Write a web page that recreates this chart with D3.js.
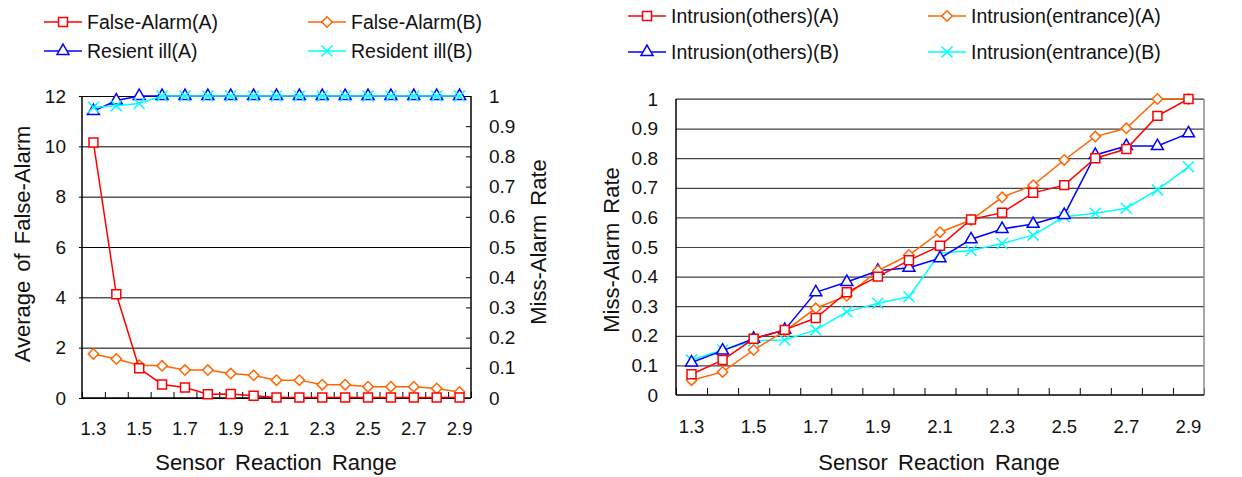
<!DOCTYPE html>
<html>
<head>
<meta charset="utf-8">
<script src="https://cdn.jsdelivr.net/npm/d3@7"></script>
<style>
  html, body { margin: 0; padding: 0; background: #fff; }
  svg { display: block; font-family: "Liberation Sans", Arial, sans-serif; }
</style>
</head>
<body>
<svg id="chart" width="1242" height="477"></svg>
<script>
// ---------------- data ----------------
const categories = ["1.3","1.4","1.5","1.6","1.7","1.8","1.9","2.0","2.1","2.2","2.3","2.4","2.5","2.6","2.7","2.8","2.9"];
const xTickLabels = ["1.3","1.5","1.7","1.9","2.1","2.3","2.5","2.7","2.9"];

// left chart (left axis: average of false-alarm)
const falseAlarmA = [10.15, 4.12, 1.18, 0.54, 0.42, 0.15, 0.16, 0.09, 0.02, 0.02, 0.02, 0.02, 0.02, 0.02, 0.02, 0.02, 0.02];
const falseAlarmB = [1.75, 1.55, 1.30, 1.28, 1.11, 1.11, 0.97, 0.90, 0.71, 0.71, 0.53, 0.53, 0.45, 0.45, 0.45, 0.38, 0.24];
// left chart (right axis: miss-alarm rate)
const residentIllA = [0.95, 0.985, 1, 1, 1, 1, 1, 1, 1, 1, 1, 1, 1, 1, 1, 1, 1];
const residentIllB = [0.963, 0.968, 0.975, 1, 1, 1, 1, 1, 1, 1, 1, 1, 1, 1, 1, 1, 1];

// right chart (miss-alarm rate)
const intrusionOthersA   = [0.07, 0.118, 0.19, 0.22, 0.26, 0.347, 0.40, 0.455, 0.504, 0.593, 0.616, 0.683, 0.709, 0.80, 0.831, 0.943, 1.0];
const intrusionEntranceA = [0.05, 0.078, 0.152, 0.216, 0.293, 0.335, 0.42, 0.473, 0.55, 0.591, 0.668, 0.709, 0.794, 0.873, 0.901, 1.0, 1.0];
const intrusionOthersB   = [0.11, 0.15, 0.19, 0.22, 0.347, 0.382, 0.42, 0.43, 0.462, 0.526, 0.561, 0.578, 0.608, 0.811, 0.841, 0.841, 0.884];
const intrusionEntranceB = [0.118, 0.152, 0.183, 0.186, 0.22, 0.281, 0.31, 0.332, 0.479, 0.488, 0.512, 0.54, 0.602, 0.614, 0.631, 0.693, 0.771];

const leftYTicks = [0, 2, 4, 6, 8, 10, 12];
const rateTicks = [0, 0.1, 0.2, 0.3, 0.4, 0.5, 0.6, 0.7, 0.8, 0.9, 1];

const RED = "#ff0000", ORANGE = "#ff6600", BLUE = "#0000ff", CYAN = "#00ffff";

const svg = d3.select("#chart");

// marker generators
function markerPath(kind) {
  if (kind === "square") return d3.symbol(d3.symbolSquare, 80)();
  if (kind === "diamond") return d3.symbol(d3.symbolSquare, 54)();
  if (kind === "triangle") return d3.symbol(d3.symbolTriangle, 62)();
  return d3.symbol(d3.symbolX, 80)();
}
function drawMarker(g, kind, x, y, color) {
  const p = g.append("path").attr("d", markerPath(kind))
    .attr("stroke", color).attr("stroke-width", 1.5)
    .attr("fill", kind === "cross" ? "none" : "#fff");
  if (kind === "diamond") p.attr("transform", `translate(${x},${y}) rotate(45)`);
  else p.attr("transform", `translate(${x},${y})`);
}
function drawSeries(g, values, x, y, color, kind) {
  const line = d3.line().x((d, i) => x(categories[i]) + x.bandwidth() / 2).y(d => y(d));
  g.append("path").datum(values).attr("d", line)
    .attr("fill", "none").attr("stroke", color).attr("stroke-width", 1.5);
  const mg = g.append("g");
  values.forEach((v, i) => drawMarker(mg, kind, x(categories[i]) + x.bandwidth() / 2, y(v), color));
}
function legendEntry(x, y, label, color, kind) {
  const g = svg.append("g");
  g.append("line").attr("x1", x).attr("x2", x + 38).attr("y1", y).attr("y2", y)
    .attr("stroke", color).attr("stroke-width", 1.5);
  drawMarker(g, kind, x + 19, y, color);
  g.append("text").attr("x", x + 43).attr("y", y + 7).attr("font-size", 19.5)
    .attr("fill", "#111").text(label);
}
function styleAxis(g) {
  g.select(".domain").remove();
  g.selectAll("text").attr("fill", "#111");
}

// ================= LEFT CHART =================
(function () {
  const X0 = 82, X1 = 471, Y0 = 96, Y1 = 398;
  const x = d3.scaleBand().domain(categories).range([X0, X1]).padding(0);
  const xEdge = d3.scaleLinear().domain([0, categories.length]).range([X0, X1]);
  const yL = d3.scaleLinear().domain([0, 12]).range([Y1, Y0]);
  const yR = d3.scaleLinear().domain([0, 1]).range([Y1, Y0]);
  const g = svg.append("g");

  // gridlines
  const grid = g.append("g").attr("transform", `translate(${X0},0)`)
    .call(d3.axisLeft(yL).tickValues(leftYTicks).tickSize(-(X1 - X0)).tickFormat(""));
  grid.select(".domain").remove();
  grid.selectAll("line").attr("stroke", "#000").attr("stroke-width", 1);

  // left axis
  const ax = g.append("g").attr("transform", `translate(${X0},0)`)
    .call(d3.axisLeft(yL).tickValues(leftYTicks).tickSize(3).tickPadding(13));
  styleAxis(ax);
  ax.selectAll("text").attr("font-size", 19).attr("font-family", "Liberation Sans, Arial");
  ax.selectAll("line").attr("stroke", "#000");

  // right axis
  const ar = g.append("g").attr("transform", `translate(${X1},0)`)
    .call(d3.axisRight(yR).tickValues(rateTicks).tickSize(-5).tickPadding(18).tickFormat(d3.format("")));
  styleAxis(ar);
  ar.selectAll("text").attr("font-size", 19).attr("font-family", "Liberation Sans, Arial");
  ar.selectAll("line").attr("stroke", "#000");

  // x edge ticks
  const et = g.append("g").attr("transform", `translate(0,${Y1})`)
    .call(d3.axisBottom(xEdge).tickValues(d3.range(categories.length + 1)).tickSize(-6).tickFormat(""));
  et.select(".domain").remove();
  et.selectAll("line").attr("stroke", "#000");

  // x labels
  const xl = g.append("g").attr("transform", `translate(0,${Y1})`)
    .call(d3.axisBottom(x).tickValues(xTickLabels).tickSize(0).tickPadding(24));
  styleAxis(xl);
  xl.selectAll("text").attr("font-size", 18.5).attr("font-family", "Liberation Sans, Arial");

  // frame lines
  g.append("line").attr("x1", X0).attr("x2", X0).attr("y1", Y0).attr("y2", Y1).attr("stroke", "#000").attr("stroke-width", 1.5);
  g.append("line").attr("x1", X1).attr("x2", X1).attr("y1", Y0).attr("y2", Y1).attr("stroke", "#000").attr("stroke-width", 1.5);
  g.append("line").attr("x1", X0).attr("x2", X1).attr("y1", Y1).attr("y2", Y1).attr("stroke", "#000").attr("stroke-width", 1.5);

  // series
  drawSeries(g, falseAlarmB, x, yL, ORANGE, "diamond");
  drawSeries(g, falseAlarmA, x, yL, RED, "square");
  drawSeries(g, residentIllA, x, yR, BLUE, "triangle");
  drawSeries(g, residentIllB, x, yR, CYAN, "cross");

  // titles
  g.append("text").attr("transform", "translate(30,244) rotate(-90)").attr("text-anchor", "middle")
    .attr("font-size", 22).attr("word-spacing", 3).attr("fill", "#111").text("Average of False-Alarm");
  g.append("text").attr("transform", "translate(546,242) rotate(-90)").attr("text-anchor", "middle")
    .attr("font-size", 22).attr("word-spacing", 3).attr("fill", "#111").text("Miss-Alarm Rate");
  g.append("text").attr("x", 276).attr("y", 470).attr("text-anchor", "middle")
    .attr("font-size", 22).attr("word-spacing", 4).attr("fill", "#111").text("Sensor Reaction Range");
})();

// ================= RIGHT CHART =================
(function () {
  const X0 = 676, X1 = 1204, Y0 = 99, Y1 = 395;
  const x = d3.scaleBand().domain(categories).range([X0, X1]).padding(0);
  const xEdge = d3.scaleLinear().domain([0, categories.length]).range([X0, X1]);
  const y = d3.scaleLinear().domain([0, 1]).range([Y1, Y0]);
  const g = svg.append("g");

  const grid = g.append("g").attr("transform", `translate(${X0},0)`)
    .call(d3.axisLeft(y).tickValues(rateTicks.slice(1)).tickSize(-(X1 - X0)).tickFormat(""));
  grid.select(".domain").remove();
  grid.selectAll("line").attr("stroke", "#444").attr("stroke-width", 1.2);

  const ay = g.append("g").attr("transform", `translate(${X0},0)`)
    .call(d3.axisLeft(y).tickValues(rateTicks).tickSize(0).tickPadding(18).tickFormat(d3.format("")));
  styleAxis(ay);
  ay.selectAll("text").attr("font-size", 19).attr("font-family", "Liberation Sans, Arial");

  const et = g.append("g").attr("transform", `translate(0,${Y1})`)
    .call(d3.axisBottom(xEdge).tickValues(d3.range(categories.length + 1)).tickSize(-7).tickFormat(""));
  et.select(".domain").remove();
  et.selectAll("line").attr("stroke", "#000");

  const xl = g.append("g").attr("transform", `translate(0,${Y1})`)
    .call(d3.axisBottom(x).tickValues(xTickLabels).tickSize(0).tickPadding(25));
  styleAxis(xl);
  xl.selectAll("text").attr("font-size", 18.5).attr("font-family", "Liberation Sans, Arial");

  // frame
  g.append("line").attr("x1", X1).attr("x2", X1).attr("y1", Y0).attr("y2", Y1).attr("stroke", "#888").attr("stroke-width", 1.5);
  g.append("line").attr("x1", X0).attr("x2", X1).attr("y1", Y0).attr("y2", Y0).attr("stroke", "#777").attr("stroke-width", 1.5);
  g.append("line").attr("x1", X0).attr("x2", X0).attr("y1", Y0).attr("y2", Y1).attr("stroke", "#000").attr("stroke-width", 1.5);
  g.append("line").attr("x1", X0).attr("x2", X1).attr("y1", Y1).attr("y2", Y1).attr("stroke", "#000").attr("stroke-width", 1.5);

  drawSeries(g, intrusionEntranceB, x, y, CYAN, "cross");
  drawSeries(g, intrusionOthersB, x, y, BLUE, "triangle");
  drawSeries(g, intrusionEntranceA, x, y, ORANGE, "diamond");
  drawSeries(g, intrusionOthersA, x, y, RED, "square");

  g.append("text").attr("transform", "translate(619,250) rotate(-90)").attr("text-anchor", "middle")
    .attr("font-size", 22).attr("word-spacing", 3).attr("fill", "#111").text("Miss-Alarm Rate");
  g.append("text").attr("x", 939).attr("y", 470).attr("text-anchor", "middle")
    .attr("font-size", 22).attr("word-spacing", 4).attr("fill", "#111").text("Sensor Reaction Range");
})();

// ================= LEGENDS =================
legendEntry(44, 22, "False-Alarm(A)", RED, "square");
legendEntry(308, 22, "False-Alarm(B)", ORANGE, "diamond");
legendEntry(44, 51, "Resient ill(A)", BLUE, "triangle");
legendEntry(308, 51, "Resident ill(B)", CYAN, "cross");

legendEntry(628, 16, "Intrusion(others)(A)", RED, "square");
legendEntry(928, 16, "Intrusion(entrance)(A)", ORANGE, "diamond");
legendEntry(628, 52, "Intrusion(others)(B)", BLUE, "triangle");
legendEntry(928, 52, "Intrusion(entrance)(B)", CYAN, "cross");
</script>
</body>
</html>
